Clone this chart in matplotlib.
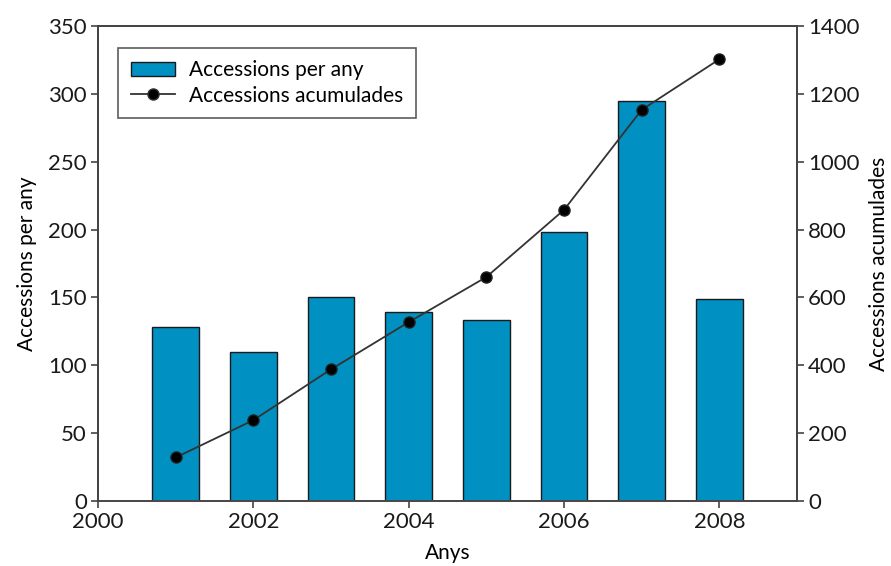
import matplotlib
matplotlib.use("Agg")
import matplotlib.pyplot as plt
from matplotlib.lines import Line2D
from matplotlib.patches import Patch

plt.rcParams['font.family'] = ['Lato', 'DejaVu Sans']

years = [2001, 2002, 2003, 2004, 2005, 2006, 2007, 2008]
per_year = [128, 110, 150, 139, 133, 198, 295, 149]
cumulative = [128, 238, 388, 527, 660, 858, 1153, 1302]

x_ticks = [2000, 2002, 2004, 2006, 2008]
left_ticks = [0, 50, 100, 150, 200, 250, 300, 350]
right_ticks = [0, 200, 400, 600, 800, 1000, 1200, 1400]

bar_color = '#0090c2'
axis_color = '#444444'

fig = plt.figure(figsize=(8.91, 5.66), dpi=100)
ax = fig.add_axes([0.110, 0.115, 0.7845, 0.839])
ax2 = ax.twinx()

ax.bar(years, per_year, width=0.6, color=bar_color, edgecolor='#1a1a1a',
       linewidth=1.0, zorder=2)
ax2.plot(years, cumulative, color='#333333', linewidth=1.3, marker='o',
         markersize=8, markerfacecolor='black', markeredgecolor='#222222',
         zorder=3)

ax.set_xlim(2000, 2009)
ax.set_ylim(0, 350)
ax2.set_ylim(0, 1400)
ax.set_xticks(x_ticks)
ax.set_yticks(left_ticks)
ax2.set_yticks(right_ticks)

for a in (ax, ax2):
    for s in a.spines.values():
        s.set_color(axis_color)
        s.set_linewidth(1.3)
    a.tick_params(direction='out', length=5, width=1.2, color=axis_color,
                  labelsize=16, labelcolor='#1a1a1a', pad=3)
ax.spines['bottom'].set_color('#777777')

ax.set_xlabel('Anys', fontsize=15, labelpad=8)
ax.set_ylabel('Accessions per any', fontsize=15, labelpad=8)
ax2.set_ylabel('Accessions acumulades', fontsize=15, labelpad=7)

handles = [
    Patch(facecolor=bar_color, edgecolor='#1a1a1a', linewidth=1.0),
    Line2D([0], [0], color='#333333', linewidth=1.3, marker='o',
           markersize=8, markerfacecolor='black'),
]
leg = ax.legend(handles, ['Accessions per any', 'Accessions acumulades'],
                loc='upper left', bbox_to_anchor=(0.029, 0.954),
                borderaxespad=0, fontsize=15, frameon=True, fancybox=False,
                edgecolor='#333333', handlelength=2.1, borderpad=0.6,
                labelspacing=0.25, handletextpad=0.7)
leg.get_frame().set_linewidth(1.2)
leg.set_zorder(5)

fig.savefig('out.png', dpi=100)
